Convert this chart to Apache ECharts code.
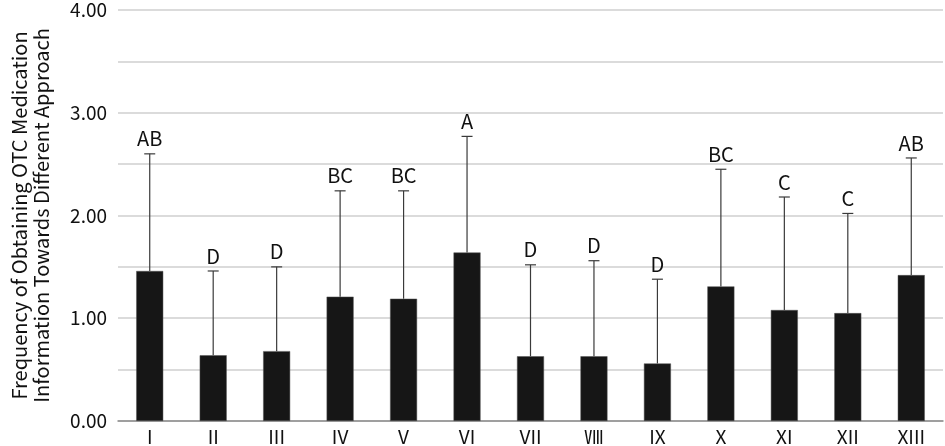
<!DOCTYPE html>
<html>
<head>
<meta charset="utf-8">
<script src="https://cdn.jsdelivr.net/npm/echarts@6/dist/echarts.min.js"></script>
<style>
html,body{margin:0;padding:0;background:#fff;}
#chart{width:945px;height:446px;}
</style>
</head>
<body>
<div id="chart"></div>
<script>
const categories = ['I','II','III','IV','V','VI','VII','Ⅷ','IX','X','XI','XII','XIII'];
const means = [1.46, 0.64, 0.68, 1.21, 1.19, 1.64, 0.63, 0.63, 0.56, 1.31, 1.08, 1.05, 1.42];
const errorTops = [2.60, 1.46, 1.50, 2.24, 2.24, 2.77, 1.52, 1.56, 1.38, 2.45, 2.18, 2.02, 2.56];
const letters = ['AB','D','D','BC','BC','A','D','D','D','BC','C','C','AB'];
const yTicks = { min: 0, max: 4, step: 0.5 };

const errData = categories.map((c, i) => [i, means[i], errorTops[i]]);

const chart = echarts.init(document.getElementById('chart'), null, {renderer: 'canvas'});
const font = 'Noto Sans CJK JP';
chart.setOption({
  animation: false,
  backgroundColor: '#fff',
  grid: { left: 111, right: 2, top: 10, bottom: 25, containLabel: false },
  xAxis: {
    type: 'category',
    data: categories,
    axisLine: { lineStyle: { color: '#8c8c8c', width: 1.5 } },
    axisTick: { show: false },
    axisLabel: { color: '#111', fontFamily: font, fontSize: 19, margin: 6 }
  },
  yAxis: {
    type: 'value',
    min: yTicks.min, max: yTicks.max, interval: yTicks.step,
    name: 'Frequency of Obtaining OTC Medication\nInformation Towards Different Approach',
    nameLocation: 'middle',
    nameGap: 66,
    nameTextStyle: { color: '#111', fontFamily: font, fontSize: 20, lineHeight: 22 },
    axisLine: { show: false },
    axisTick: { show: false },
    axisLabel: {
      color: '#111', fontFamily: font, fontSize: 19, margin: 11,
      formatter: v => (Math.abs(v - Math.round(v)) < 1e-9 ? v.toFixed(2) : '')
    },
    splitLine: { lineStyle: { color: '#cfcfcf', width: 1.5 } }
  },
  series: [
    {
      type: 'bar',
      data: means,
      barWidth: 27,
      itemStyle: { color: '#161616', borderColor: '#555', borderWidth: 0.5 },
      z: 2
    },
    {
      type: 'custom',
      data: errData,
      z: 3,
      renderItem: function (params, api) {
        const x = api.value(0);
        const lo = api.coord([x, api.value(1)]);
        const hi = api.coord([x, api.value(2)]);
        const half = 5.5;
        return {
          type: 'group',
          children: [
            { type: 'line', shape: { x1: lo[0], y1: lo[1], x2: hi[0], y2: hi[1] },
              style: { stroke: '#3a3a3a', lineWidth: 1.2 } },
            { type: 'line', shape: { x1: hi[0] - half, y1: hi[1], x2: hi[0] + half, y2: hi[1] },
              style: { stroke: '#3a3a3a', lineWidth: 1.2 } },
            { type: 'text', x: hi[0], y: hi[1] - 5,
              style: { text: letters[params.dataIndex], fill: '#111', font: '20px "Noto Sans CJK JP"',
                       align: 'center', verticalAlign: 'bottom' } }
          ]
        };
      }
    }
  ]
});
</script>
</body>
</html>
